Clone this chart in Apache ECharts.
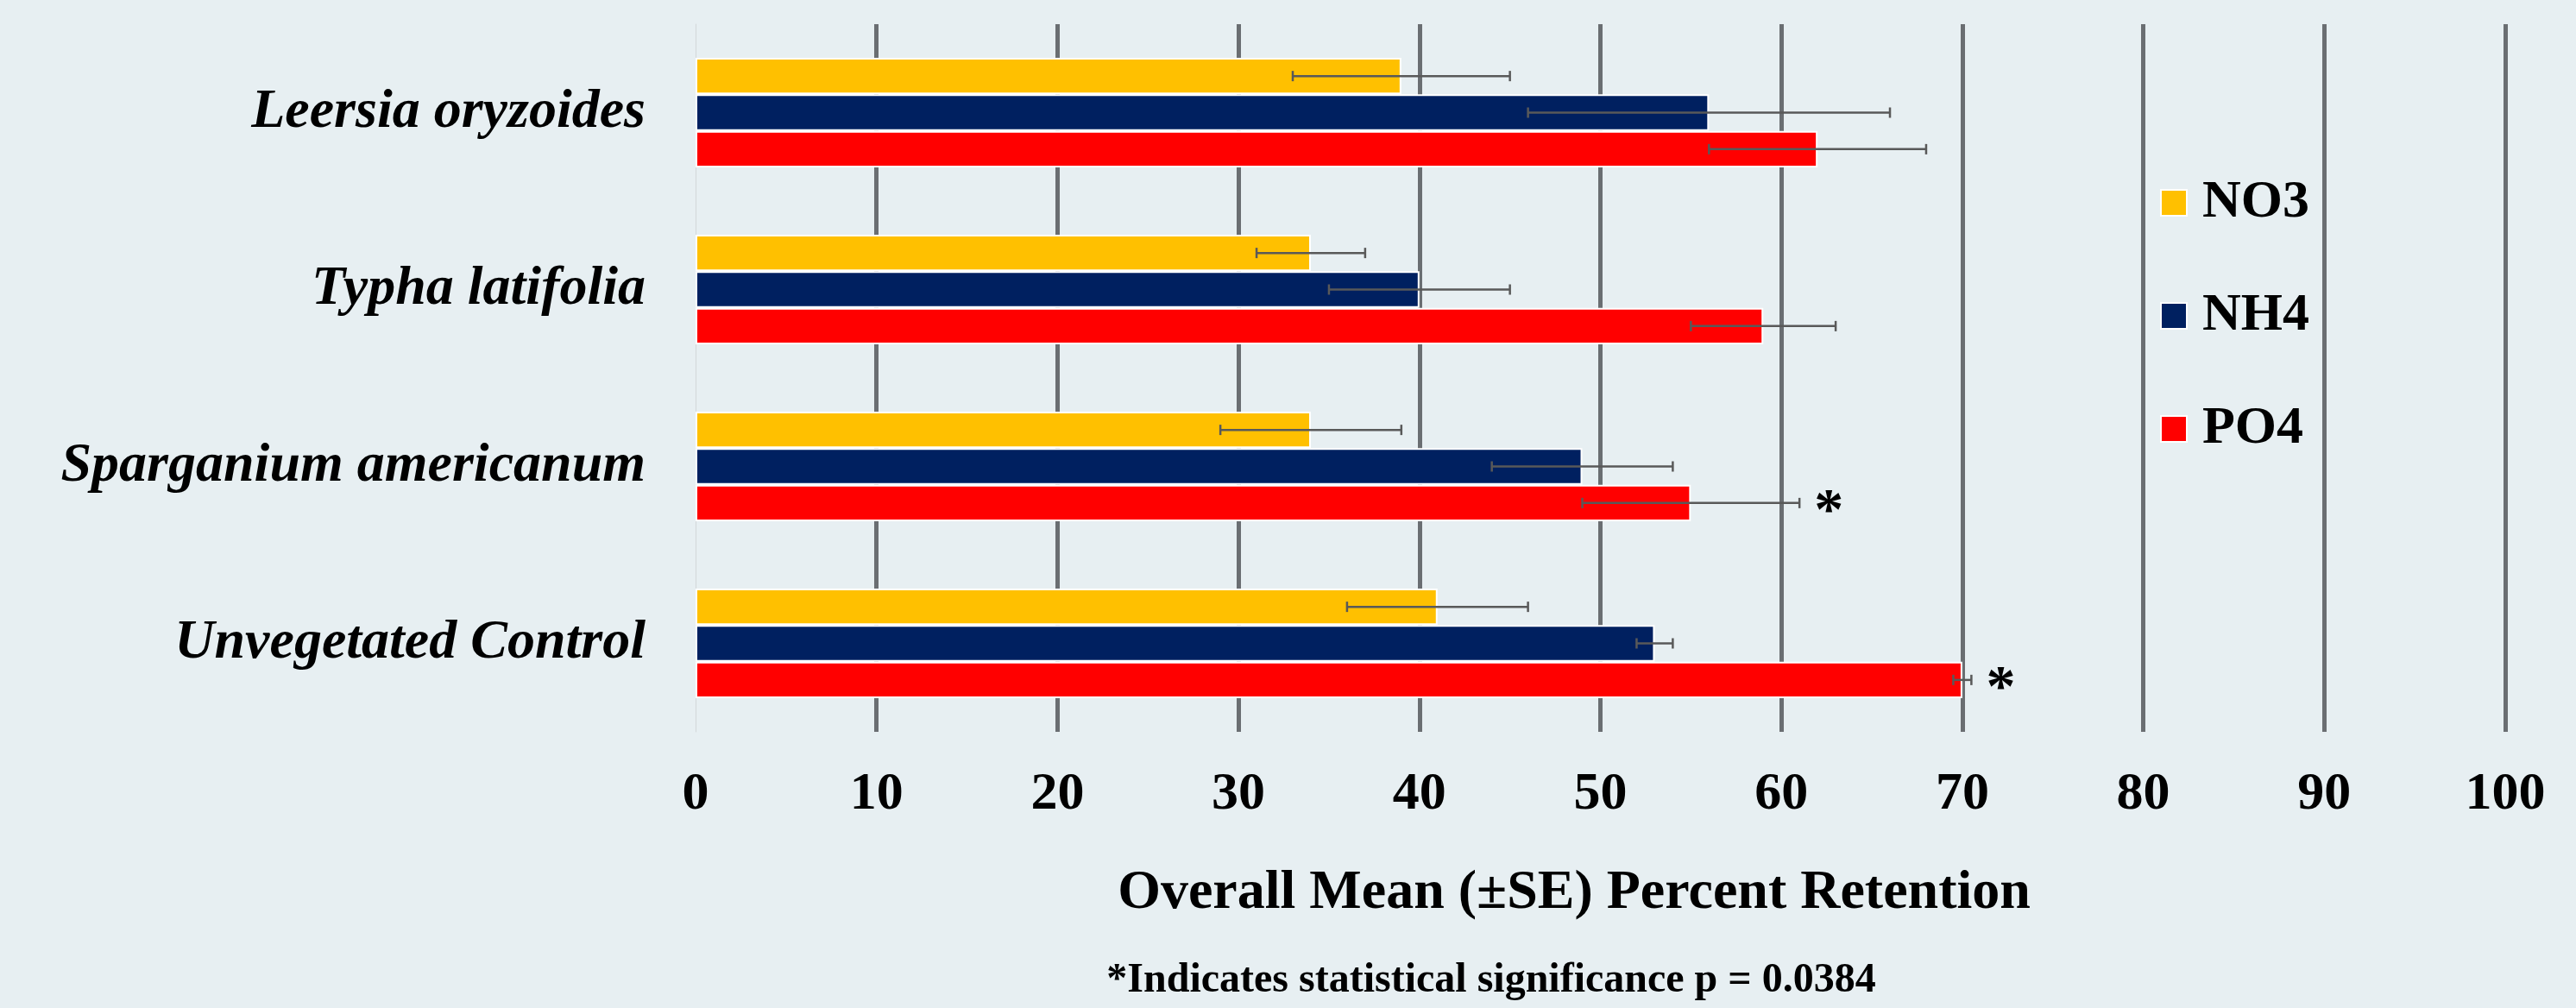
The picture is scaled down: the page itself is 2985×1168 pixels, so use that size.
<!DOCTYPE html>
<html><head><meta charset="utf-8">
<script src="https://cdn.jsdelivr.net/npm/echarts@6/dist/echarts.min.js"></script>
<style>html,body{margin:0;padding:0;background:#e7eff2}#c{width:2985px;height:1168px}</style>
</head><body><div id="c"></div>
<script>
const categories = ['Leersia oryzoides', 'Typha latifolia', 'Sparganium americanum', 'Unvegetated Control'];
const seriesNames = ['NO3', 'NH4', 'PO4'];
const no3 = [39, 34, 34, 41];
const nh4 = [56, 40, 49, 53];
const po4 = [62, 59, 55, 70];
const no3Err = [6, 3, 5, 5];
const nh4Err = [10, 5, 5, 1];
const po4Err = [6, 4, 6, 0.5];
const po4Sig = ['', '', '*', '*'];
const xMin = 0, xMax = 100, xStep = 10;
const axisTitle = 'Overall Mean (\u00B1SE) Percent Retention';
const footnote = '*Indicates statistical significance p = 0.0384';

const colors = ['#ffc000', '#002060', '#ff0000'];
const values = [no3, nh4, po4];
const errs = [no3Err, nh4Err, po4Err];
const sigs = [null, null, po4Sig];
const GAP = 0.38;
const FONT = '"Liberation Serif", "Times New Roman", serif';

const chart = echarts.init(document.getElementById('c'), null, {renderer: 'canvas'});

function errSeries(si) {
  return {
    type: 'custom',
    name: seriesNames[si] + ' err',
    z: 5,
    data: categories.map((c, i) => [values[si][i], i, errs[si][i]]),
    encode: {x: 0, y: 1},
    renderItem(params, api) {
      const v = api.value(0), ci = api.value(1), e = api.value(2);
      const band = api.size([0, 1])[1];
      const bw = band * (1 - GAP) / 3;
      const c = api.coord([v, ci]);
      const y = c[1] + (si - 1) * bw;
      const lo = api.coord([v - e, ci])[0];
      const hi = api.coord([v + e, ci])[0];
      const st = {stroke: '#595959', lineWidth: 2.5};
      const children = [
        {type: 'line', shape: {x1: lo, y1: y, x2: hi, y2: y}, style: st},
        {type: 'line', shape: {x1: lo, y1: y - 6, x2: lo, y2: y + 6}, style: st},
        {type: 'line', shape: {x1: hi, y1: y - 6, x2: hi, y2: y + 6}, style: st}
      ];
      const s = sigs[si] ? sigs[si][params.dataIndex] : '';
      if (s) {
        children.push({type: 'text', x: hi + 34, y: y + 12,
          style: {text: s, fill: '#000', font: 'bold 68px ' + FONT, align: 'center', verticalAlign: 'middle'}});
      }
      return {type: 'group', children};
    }
  };
}

const option = {
  backgroundColor: '#e7eff2',
  animation: false,
  grid: {left: 806, right: 82, top: 28, bottom: 320, outerBoundsMode: 'none'},
  legend: {
    data: seriesNames,
    orient: 'vertical',
    left: 2503, top: 204,
    itemWidth: 30, itemHeight: 30, itemGap: 69,
    padding: 0,
    icon: 'rect',
    textStyle: {fontFamily: FONT, fontWeight: 'bold', fontSize: 62, lineHeight: 62, color: '#000', padding: [0, 0, 0, 13]}
  },
  xAxis: {
    type: 'value', min: xMin, max: xMax, interval: xStep,
    axisLine: {show: false}, axisTick: {show: false},
    axisLabel: {fontFamily: FONT, fontWeight: 'bold', fontSize: 62, color: '#000', margin: 42},
    splitLine: {show: true, showMinLine: false, lineStyle: {color: '#6a6e72', width: 5}}
  },
  yAxis: {
    type: 'category', data: categories, inverse: true,
    axisLine: {show: true, lineStyle: {color: '#d3d7d9', width: 1}},
    axisTick: {show: false},
    axisLabel: {fontFamily: FONT, fontWeight: 'bold', fontStyle: 'italic', fontSize: 64, color: '#000', margin: 58}
  },
  series: seriesNames.map((n, si) => ({
    type: 'bar', name: n, data: values[si],
    barCategoryGap: (GAP * 100) + '%', barGap: '0%',
    itemStyle: {color: colors[si], borderColor: '#ffffff', borderWidth: 2},
    z: 2
  })).concat([0, 1, 2].map(errSeries)),
  graphic: [
    {type: 'text', x: 1824, y: 1035, style: {text: axisTitle, fill: '#000', font: 'bold 64px ' + FONT, align: 'center', verticalAlign: 'middle'}},
    {type: 'text', x: 1728, y: 1137, style: {text: footnote, fill: '#000', font: 'bold 48px ' + FONT, align: 'center', verticalAlign: 'middle'}}
  ]
};
chart.setOption(option);
</script>
</body></html>
